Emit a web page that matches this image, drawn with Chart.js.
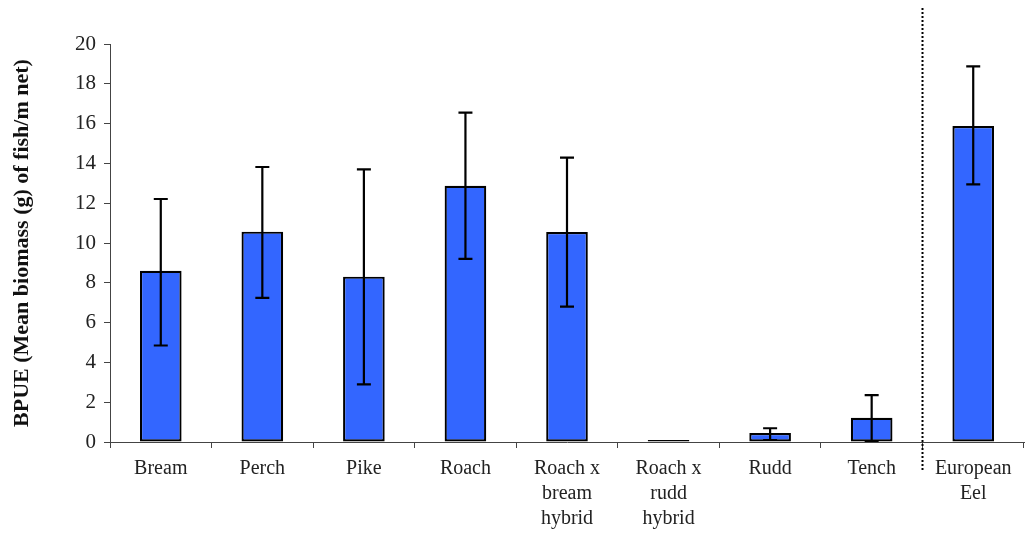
<!DOCTYPE html>
<html><head><meta charset="utf-8">
<script src="https://cdn.jsdelivr.net/npm/chart.js@4/dist/chart.umd.min.js"></script>
<style>html,body{margin:0;padding:0;background:#fff}#wrap{width:1026px;height:534px}</style>
</head><body><div id="wrap"><canvas id="c" width="1026" height="534"></canvas></div>
<script>
const categories = ['Bream','Perch','Pike','Roach',['Roach x','bream','hybrid'],['Roach x','rudd','hybrid'],'Rudd','Tench',['European','Eel']];
const meanBiomass = [8.6, 10.57, 8.31, 12.88, 10.55, 0.1, 0.45, 1.22, 15.88];
const errorLow  = [4.85, 7.24, 2.9, 9.2, 6.8, null, 0.1, 0.05, 12.95];
const errorHigh = [12.21, 13.82, 13.7, 16.55, 14.29, null, 0.69, 2.36, 18.88];
const yTicks = [0,2,4,6,8,10,12,14,16,18,20];
const separatorAfterIndex = 7;

const extras = {
  id: 'extras',
  afterDatasetsDraw(chart) {
    const ctx = chart.ctx, x = chart.scales.x, y = chart.scales.y;
    ctx.save();
    ctx.strokeStyle = '#000';
    ctx.lineWidth = 2.2;
    for (let i = 0; i < meanBiomass.length; i++) {
      if (errorLow[i] == null) continue;
      const px = x.getPixelForValue(i);
      const yl = y.getPixelForValue(errorLow[i]);
      const yh = y.getPixelForValue(errorHigh[i]);
      ctx.beginPath();
      ctx.moveTo(px, yl); ctx.lineTo(px, yh);
      ctx.moveTo(px - 7, yl); ctx.lineTo(px + 7, yl);
      ctx.moveTo(px - 7, yh); ctx.lineTo(px + 7, yh);
      ctx.stroke();
    }
    const sx = Math.round((x.getPixelForValue(separatorAfterIndex) + x.getPixelForValue(separatorAfterIndex + 1)) / 2) + 0.5;
    ctx.setLineDash([2, 2]);
    ctx.lineWidth = 2;
    ctx.beginPath();
    ctx.moveTo(sx, 8); ctx.lineTo(sx, 472);
    ctx.stroke();
    ctx.restore();
  }
};

new Chart(document.getElementById('c'), {
  type: 'bar',
  data: {
    labels: categories,
    datasets: [{
      data: meanBiomass,
      backgroundColor: '#3366FF',
      borderColor: '#000',
      borderWidth: 2.2,
      borderSkipped: false,
      barPercentage: 0.41,
      categoryPercentage: 1.0
    }]
  },
  options: {
    responsive: false,
    animation: false,
    devicePixelRatio: 1,
    layout: { padding: { left: 0, right: 2, top: 44, bottom: 0 } },
    plugins: { legend: { display: false }, tooltip: { enabled: false } },
    scales: {
      x: {
        offset: true,
        grid: { display: true, drawOnChartArea: false, drawTicks: true, tickLength: 6, color: '#444', offset: true },
        border: { display: true, color: '#444', width: 1 },
        ticks: { color: '#222', font: { family: 'Liberation Serif', size: 20, lineHeight: 1.25 }, padding: 8, maxRotation: 0, autoSkip: false },
        afterFit(s) { s.height = 92; }
      },
      y: {
        min: 0, max: 20,
        afterBuildTicks(s) { s.ticks = yTicks.map(v => ({ value: v })); },
        grid: { display: true, drawOnChartArea: false, drawTicks: true, tickLength: 6, color: '#444' },
        border: { display: true, color: '#444', width: 1 },
        ticks: { color: '#222', font: { family: 'Liberation Serif', size: 21 }, padding: 8 },
        title: { display: true, text: 'BPUE (Mean biomass (g) of fish/m net)', color: '#111', font: { family: 'Liberation Serif', size: 22, weight: 'bold' }, padding: { top: 9, bottom: 6 } },
        afterFit(s) { s.width = 110; }
      }
    }
  },
  plugins: [extras]
});
</script></body></html>
